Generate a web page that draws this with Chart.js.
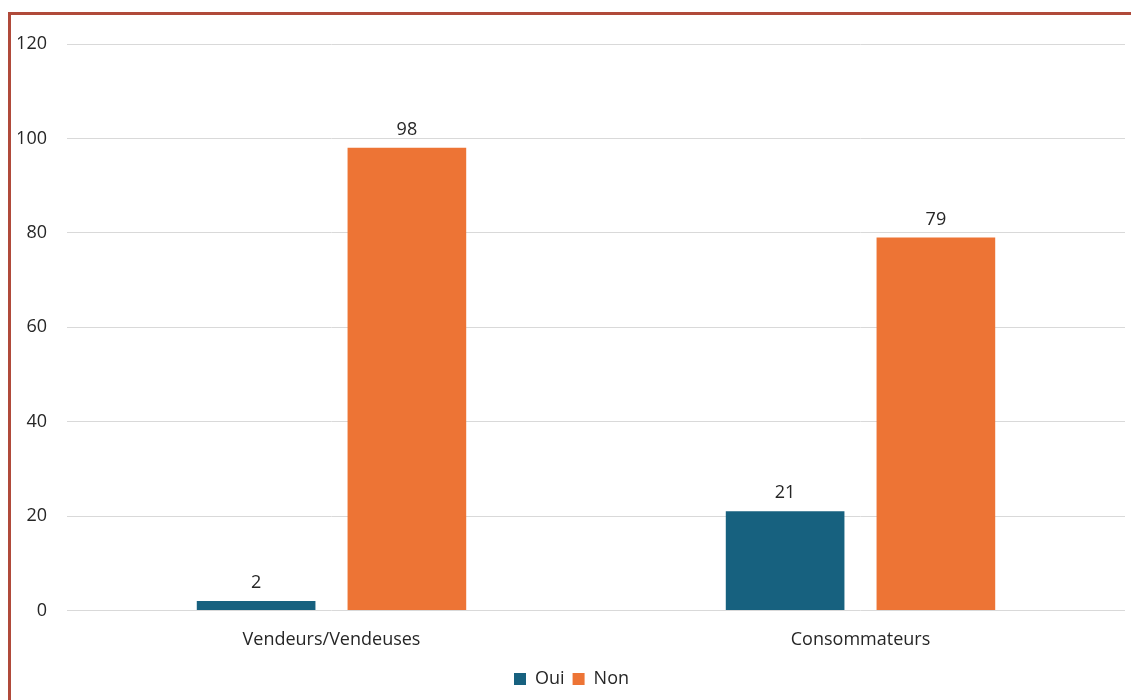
<!DOCTYPE html>
<html>
<head>
<meta charset="utf-8">
<script src="https://cdn.jsdelivr.net/npm/chart.js@4"></script>
<style>
  body { margin: 0; background: #fff; }
  #wrap { position: relative; width: 1131px; height: 700px; overflow: hidden; }
  #frame { position: absolute; left: 8px; top: 12px; width: 1200px; height: 800px;
           border-left: 3px solid #b04a3a; border-top: 3px solid #b04a3a; }
  canvas { position: absolute; left: 0; top: 0; }
</style>
</head>
<body>
<div id="wrap">
  <div id="frame"></div>
  <canvas id="mycanvas" width="1131" height="700"></canvas>
</div>
<script>
var categories = ['Vendeurs/Vendeuses', 'Consommateurs'];
var oui = [2, 21];
var non = [98, 79];
var yTicks = [0, 20, 40, 60, 80, 100, 120];

// draws the value above each bar
var valueLabels = {
  id: 'valueLabels',
  afterDatasetsDraw: function(chart) {
    var ctx = chart.ctx;
    ctx.save();
    ctx.font = '18px "Open Sans"';
    ctx.fillStyle = '#262626';
    ctx.textAlign = 'center';
    ctx.textBaseline = 'bottom';
    chart.data.datasets.forEach(function(ds, i) {
      chart.getDatasetMeta(i).data.forEach(function(bar, j) {
        ctx.fillText(ds.data[j], bar.x, bar.y - 9);
      });
    });
    ctx.restore();
  }
};

var chartdata = {
  labels: categories,
  datasets: [
    { label: 'Oui', data: oui, backgroundColor: '#17617f',
      categoryPercentage: 0.57, barPercentage: 0.787 },
    { label: 'Non', data: non, backgroundColor: '#ed7435',
      categoryPercentage: 0.57, barPercentage: 0.787 }
  ]
};

new Chart(document.getElementById('mycanvas'), {
  type: 'bar',
  data: chartdata,
  plugins: [valueLabels],
  options: {
    responsive: false,
    animation: false,
    layout: { padding: { left: 18, right: 6, top: 44, bottom: 2 } },
    plugins: {
      legend: {
        position: 'bottom',
        labels: { boxWidth: 12, boxHeight: 12, padding: 8, color: '#262626',
                  font: { family: 'Open Sans', size: 18 } }
      },
      tooltip: { enabled: false }
    },
    scales: {
      x: {
        grid: { display: false },
        border: { display: false },
        ticks: { color: '#262626', padding: 11, font: { family: 'Open Sans', size: 18 } }
      },
      y: {
        min: 0, max: 120,
        afterBuildTicks: function(axis) {
          axis.ticks = yTicks.map(function(v) { return { value: v }; });
        },
        afterFit: function(axis) { axis.width = 49; },
        grid: { color: '#d9d9d9', drawTicks: false },
        border: { display: false },
        ticks: { color: '#262626', padding: 20, font: { family: 'Open Sans', size: 18 } }
      }
    }
  }
});
</script>
</body>
</html>
